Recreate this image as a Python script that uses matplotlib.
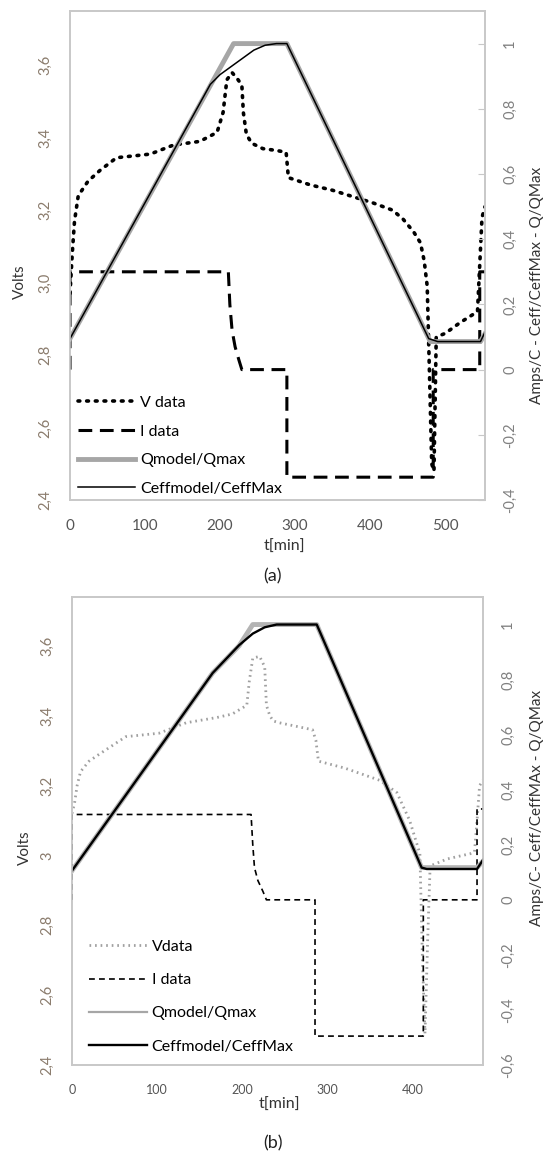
import matplotlib
matplotlib.use('Agg')
import matplotlib.pyplot as plt
from matplotlib.lines import Line2D

plt.rcParams['font.family'] = ['Lato', 'DejaVu Sans']

# ---- panel (a) data ----
t_v_a = [0, 3, 6, 11, 24, 40, 62, 85, 107, 138, 173, 196, 204, 209, 216, 224, 229,
         231, 235, 242, 257, 275, 288, 291, 320, 350, 373, 404, 430, 444, 458, 467,
         472, 476, 479, 482, 485, 488, 500, 520, 543, 546, 549, 553]
v_a = [2.97, 3.08, 3.17, 3.24, 3.28, 3.31, 3.345, 3.35, 3.355, 3.38, 3.39, 3.415, 3.47,
       3.56, 3.58, 3.56, 3.545, 3.47, 3.41, 3.385, 3.37, 3.365, 3.36, 3.29, 3.27, 3.255,
       3.24, 3.22, 3.20, 3.175, 3.14, 3.11, 3.06, 2.99, 2.75, 2.50, 2.48, 2.85, 2.86,
       2.89, 2.92, 3.05, 3.18, 3.21]
t_i_a = [0, 0, 211, 213, 216, 220, 225, 229, 289, 289, 484, 484, 546, 546, 553]
i_a = [0, 0.3, 0.3, 0.2, 0.12, 0.07, 0.03, 0, 0, -0.33, -0.33, 0, 0, 0.3, 0.3]
t_q_a = [0, 218, 289, 480, 547, 553]
q_a = [0.095, 1.0, 1.0, 0.086, 0.086, 0.11]
t_c_a = [0, 187, 200, 215, 230, 245, 260, 275, 289, 478, 490, 547, 553]
c_a = [0.095, 0.875, 0.905, 0.93, 0.955, 0.98, 0.995, 1.0, 1.0, 0.095, 0.086, 0.086, 0.115]

# ---- panel (b) data ----
t_v_b = [0, 3, 6, 10, 20, 32, 63, 102, 134, 170, 188, 205, 208, 212, 220, 226, 228, 232,
         236, 243, 282, 286, 289, 320, 361, 381, 396, 408, 411, 414, 417, 420, 440, 467,
         472, 475, 478, 482]
v_b = [3.12, 3.15, 3.2, 3.24, 3.27, 3.29, 3.34, 3.35, 3.38, 3.395, 3.405, 3.43, 3.5,
       3.565, 3.57, 3.54, 3.43, 3.40, 3.385, 3.38, 3.36, 3.33, 3.27, 3.25, 3.215, 3.18,
       3.10, 3.005, 2.7, 2.49, 2.75, 2.97, 2.99, 3.005, 3.01, 3.1, 3.2, 3.215]
t_i_b = [0, 0, 210, 212, 214, 218, 224, 228, 285, 285, 412, 412, 475, 475, 482]
i_b = [0, 0.31, 0.31, 0.2, 0.117, 0.07, 0.03, 0, 0, -0.495, -0.495, 0, 0, 0.33, 0.33]
t_q_b = [0, 165, 196, 212, 287, 410, 475, 482]
q_b = [0.106, 0.824, 0.923, 1.0, 1.0, 0.117, 0.117, 0.14]
t_c_b = [0, 165, 196, 212, 226, 240, 287, 410, 416, 475, 482]
c_b = [0.106, 0.824, 0.925, 0.967, 0.99, 1.0, 1.0, 0.117, 0.112, 0.112, 0.145]

x_ticks_a = [0, 100, 200, 300, 400, 500]
x_ticks_b = [0, 100, 200, 300, 400]
v_ticks_a = [2.4, 2.6, 2.8, 3.0, 3.2, 3.4, 3.6]
v_labels_a = ['2,4', '2,6', '2,8', '3,0', '3,2', '3,4', '3,6']
v_labels_b = ['2,4', '2,6', '2,8', '3', '3,2', '3,4', '3,6']
r_ticks_a = [-0.4, -0.2, 0, 0.2, 0.4, 0.6, 0.8, 1.0]
r_labels_a = ['-0,4', '-0,2', '0', '0,2', '0,4', '0,6', '0,8', '1']
r_ticks_b = [-0.6, -0.4, -0.2, 0, 0.2, 0.4, 0.6, 0.8, 1.0]
r_labels_b = ['-0,6', '-0,4', '-0,2', '0', '0,2', '0,4', '0,6', '0,8', '1']

SPINE = '#c8c8c8'
LCOL = '#8a7b6c'
RCOL = '#808080'
DOTS_A = (0, (0.5, 1.9))
DOTS_B = (0, (0.6, 1.4))

fig = plt.figure(figsize=(5.55, 11.59), dpi=100)


def style_axes(ax, ax2, xlim, vlim, rlim, xt, vt, vl, rt, rl, xfs, tfs, rtick):
    ax.set_xlim(*xlim)
    ax.set_ylim(*vlim)
    ax2.set_ylim(*rlim)
    ax.set_xticks(xt)
    ax.set_xticklabels([str(x) for x in xt])
    ax.set_yticks(vt)
    ax.set_yticklabels(vl)
    ax2.set_yticks(rt)
    ax2.set_yticklabels(rl)
    for a in (ax, ax2):
        for s in a.spines.values():
            s.set_color(SPINE)
            s.set_linewidth(1.2)
    ax.tick_params(axis='x', length=0, pad=14, labelsize=xfs, labelcolor='#555555')
    ax.tick_params(axis='y', length=0, pad=13, labelsize=tfs, labelcolor=LCOL,
                   labelrotation=90)
    for lab in ax.get_yticklabels():
        lab.set_va('center')
    ax2.tick_params(axis='y', length=rtick, direction='in', color=SPINE, pad=13,
                    labelsize=tfs, labelcolor=RCOL, labelrotation=90)
    for lab in ax2.get_yticklabels():
        lab.set_va('center')


# ---------------- panel (a) ----------------
ax = fig.add_axes([70 / 555, 1 - 500 / 1159, 415 / 555, 489 / 1159])
ax2 = ax.twinx()
ax.plot(t_v_a, v_a, color='black', lw=2.6, linestyle=DOTS_A, dash_capstyle='round')
ax2.plot(t_i_a, i_a, color='black', lw=2.2, linestyle=(0, (4.5, 2.5)))
ax2.plot(t_q_a, q_a, color='#a6a6a6', lw=3.5)
ax2.plot(t_c_a, c_a, color='black', lw=1.1)
style_axes(ax, ax2, (0, 553), (2.4, 3.75), (-0.4, 1.1), x_ticks_a, v_ticks_a,
           v_labels_a, r_ticks_a, r_labels_a, 11, 10.5, 5)

h_a = [Line2D([], [], color='black', lw=2.6, linestyle=DOTS_A, dash_capstyle='round'),
       Line2D([], [], color='black', lw=2.2, linestyle=(0, (4.5, 2.5))),
       Line2D([], [], color='#a6a6a6', lw=3.5),
       Line2D([], [], color='black', lw=1.1)]
ax2.legend(h_a, ['V data', 'I data', 'Qmodel/Qmax', 'Ceffmodel/CeffMax'],
           loc='lower left', bbox_to_anchor=(-0.008, -0.014), frameon=False,
           fontsize=11.5, handlelength=3.6, handletextpad=0.3, labelspacing=0.9,
           borderaxespad=0.3)

fig.text(20 / 555, 1 - 282 / 1159, 'Volts', rotation=90, ha='center', va='center',
         fontsize=11, color='#333333')
fig.text(537 / 555, 1 - 285 / 1159, 'Amps/C - Ceff/CeffMax - Q/QMax', rotation=90,
         ha='center', va='center', fontsize=11, color='#333333')
fig.text(284 / 555, 1 - 547 / 1159, 't[min]', ha='center', va='center', fontsize=11.5,
         color='#333333')
fig.text(273 / 555, 1 - 576 / 1159, '(a)', ha='center', va='center', fontsize=13,
         color='#222222')

# ---------------- panel (b) ----------------
bx = fig.add_axes([72 / 555, 1 - 1065 / 1159, 411 / 555, 468 / 1159])
bx2 = bx.twinx()
bx.plot(t_v_b, v_b, color='#a0a0a0', lw=2.0, linestyle=DOTS_B)
bx2.plot(t_i_b, i_b, color='black', lw=1.2, linestyle=(0, (3.5, 2.5)))
bx2.plot(t_q_b, q_b, color='#b4b4b4', lw=3.5)
bx2.plot(t_c_b, c_b, color='black', lw=1.7)
style_axes(bx, bx2, (0, 482), (2.4, 3.74), (-0.6, 1.1), x_ticks_b, v_ticks_a,
           v_labels_b, r_ticks_b, r_labels_b, 9, 10.5, 0)

h_b = [Line2D([], [], color='#a0a0a0', lw=2.0, linestyle=DOTS_B),
       Line2D([], [], color='black', lw=1.2, linestyle=(0, (3.5, 2.5))),
       Line2D([], [], color='#a6a6a6', lw=1.6),
       Line2D([], [], color='black', lw=1.7)]
bx2.legend(h_b, ['Vdata', 'I data', 'Qmodel/Qmax', 'Ceffmodel/CeffMax'],
           loc='lower left', bbox_to_anchor=(0.015, 0.0), frameon=False,
           fontsize=11.5, handlelength=3.6, handletextpad=0.3, labelspacing=1.2,
           borderaxespad=0.3)

fig.text(25 / 555, 1 - 848 / 1159, 'Volts', rotation=90, ha='center', va='center',
         fontsize=11, color='#333333')
fig.text(537 / 555, 1 - 808 / 1159, 'Amps/C- Ceff/CeffMAx - Q/QMax', rotation=90,
         ha='center', va='center', fontsize=11, color='#333333')
fig.text(279 / 555, 1 - 1105 / 1159, 't[min]', ha='center', va='center', fontsize=11.5,
         color='#333333')
fig.text(273 / 555, 1 - 1143 / 1159, '(b)', ha='center', va='center', fontsize=13,
         color='#222222')

fig.savefig('out.png', dpi=100)
